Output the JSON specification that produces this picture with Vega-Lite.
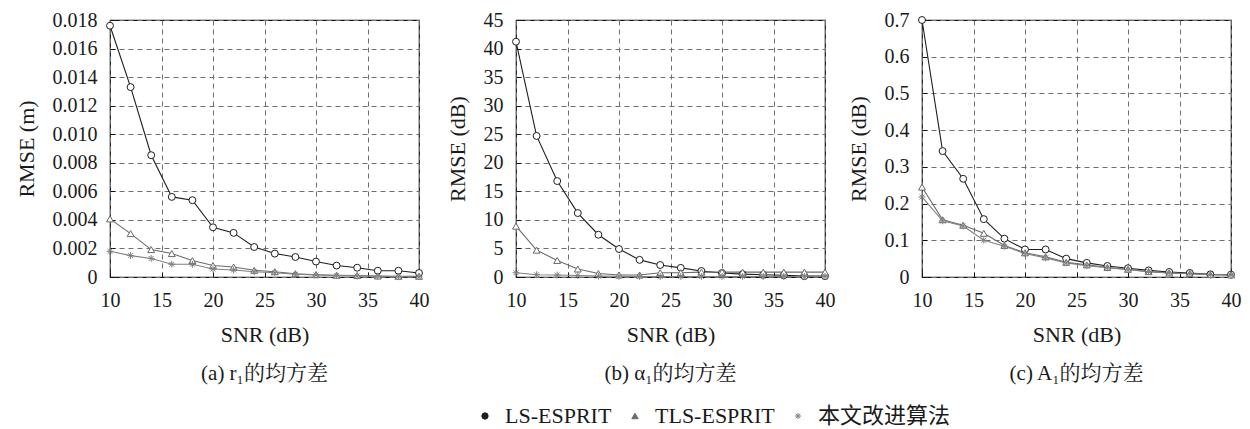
{
  "$schema": "https://vega.github.io/schema/vega-lite/v6.json",
  "background": "white",
  "padding": {"left": 14, "top": 9, "right": 10, "bottom": 5},
  "bounds": "flush",
  "spacing": 97,
  "datasets": {
    "a": [
      {"snr": 10, "LS-ESPRIT": 0.0176, "TLS-ESPRIT": 0.00407, "本文改进算法": 0.0018},
      {"snr": 12, "LS-ESPRIT": 0.0133, "TLS-ESPRIT": 0.00304, "本文改进算法": 0.0015},
      {"snr": 14, "LS-ESPRIT": 0.00853, "TLS-ESPRIT": 0.00192, "本文改进算法": 0.0013},
      {"snr": 16, "LS-ESPRIT": 0.00561, "TLS-ESPRIT": 0.00164, "本文改进算法": 0.00089},
      {"snr": 18, "LS-ESPRIT": 0.00538, "TLS-ESPRIT": 0.00115, "本文改进算法": 0.00089},
      {"snr": 20, "LS-ESPRIT": 0.00348, "TLS-ESPRIT": 0.0008, "本文改进算法": 0.00056},
      {"snr": 22, "LS-ESPRIT": 0.00309, "TLS-ESPRIT": 0.0007, "本文改进算法": 0.00049},
      {"snr": 24, "LS-ESPRIT": 0.0021, "TLS-ESPRIT": 0.00047, "本文改进算法": 0.00037},
      {"snr": 26, "LS-ESPRIT": 0.00164, "TLS-ESPRIT": 0.00037, "本文改进算法": 0.0003},
      {"snr": 28, "LS-ESPRIT": 0.0014, "TLS-ESPRIT": 0.00023, "本文改进算法": 0.00019},
      {"snr": 30, "LS-ESPRIT": 0.00108, "TLS-ESPRIT": 0.00016, "本文改进算法": 0.00014},
      {"snr": 32, "LS-ESPRIT": 0.0008, "TLS-ESPRIT": 0.00012, "本文改进算法": 0.0001},
      {"snr": 34, "LS-ESPRIT": 0.00065, "TLS-ESPRIT": 0.0001, "本文改进算法": 0.00007},
      {"snr": 36, "LS-ESPRIT": 0.00044, "TLS-ESPRIT": 0.00007, "本文改进算法": 0.00005},
      {"snr": 38, "LS-ESPRIT": 0.00044, "TLS-ESPRIT": 0.00005, "本文改进算法": 0.00002},
      {"snr": 40, "LS-ESPRIT": 0.00028, "TLS-ESPRIT": 0.00005, "本文改进算法": 0.00002}
    ],
    "b": [
      {"snr": 10, "LS-ESPRIT": 41.2, "TLS-ESPRIT": 8.9, "本文改进算法": 0.75},
      {"snr": 12, "LS-ESPRIT": 24.7, "TLS-ESPRIT": 4.7, "本文改进算法": 0.4},
      {"snr": 14, "LS-ESPRIT": 16.8, "TLS-ESPRIT": 2.9, "本文改进算法": 0.35},
      {"snr": 16, "LS-ESPRIT": 11.2, "TLS-ESPRIT": 1.4, "本文改进算法": 0.25},
      {"snr": 18, "LS-ESPRIT": 7.4, "TLS-ESPRIT": 0.6, "本文改进算法": 0.15},
      {"snr": 20, "LS-ESPRIT": 4.9, "TLS-ESPRIT": 0.35, "本文改进算法": 0.12},
      {"snr": 22, "LS-ESPRIT": 3.0, "TLS-ESPRIT": 0.35, "本文改进算法": 0.1},
      {"snr": 24, "LS-ESPRIT": 2.1, "TLS-ESPRIT": 0.75, "本文改进算法": 0.1},
      {"snr": 26, "LS-ESPRIT": 1.6, "TLS-ESPRIT": 0.75, "本文改进算法": 0.1},
      {"snr": 28, "LS-ESPRIT": 1.05, "TLS-ESPRIT": 0.85, "本文改进算法": 0.1},
      {"snr": 30, "LS-ESPRIT": 0.7, "TLS-ESPRIT": 0.85, "本文改进算法": 0.1},
      {"snr": 32, "LS-ESPRIT": 0.5, "TLS-ESPRIT": 0.85, "本文改进算法": 0.1},
      {"snr": 34, "LS-ESPRIT": 0.4, "TLS-ESPRIT": 0.85, "本文改进算法": 0.1},
      {"snr": 36, "LS-ESPRIT": 0.3, "TLS-ESPRIT": 0.85, "本文改进算法": 0.1},
      {"snr": 38, "LS-ESPRIT": 0.15, "TLS-ESPRIT": 0.85, "本文改进算法": 0.1},
      {"snr": 40, "LS-ESPRIT": 0.15, "TLS-ESPRIT": 0.85, "本文改进算法": 0.1}
    ],
    "c": [
      {"snr": 10, "LS-ESPRIT": 0.7, "TLS-ESPRIT": 0.245, "本文改进算法": 0.218},
      {"snr": 12, "LS-ESPRIT": 0.343, "TLS-ESPRIT": 0.156, "本文改进算法": 0.153},
      {"snr": 14, "LS-ESPRIT": 0.2675, "TLS-ESPRIT": 0.141, "本文改进算法": 0.139},
      {"snr": 16, "LS-ESPRIT": 0.1576, "TLS-ESPRIT": 0.119, "本文改进算法": 0.1},
      {"snr": 18, "LS-ESPRIT": 0.1045, "TLS-ESPRIT": 0.086, "本文改进算法": 0.084},
      {"snr": 20, "LS-ESPRIT": 0.075, "TLS-ESPRIT": 0.066, "本文改进算法": 0.064},
      {"snr": 22, "LS-ESPRIT": 0.075, "TLS-ESPRIT": 0.055, "本文改进算法": 0.052},
      {"snr": 24, "LS-ESPRIT": 0.05, "TLS-ESPRIT": 0.04, "本文改进算法": 0.0385},
      {"snr": 26, "LS-ESPRIT": 0.0385, "TLS-ESPRIT": 0.033, "本文改进算法": 0.031},
      {"snr": 28, "LS-ESPRIT": 0.03, "TLS-ESPRIT": 0.026, "本文改进算法": 0.025},
      {"snr": 30, "LS-ESPRIT": 0.024, "TLS-ESPRIT": 0.021, "本文改进算法": 0.02},
      {"snr": 32, "LS-ESPRIT": 0.018, "TLS-ESPRIT": 0.0147, "本文改进算法": 0.0147},
      {"snr": 34, "LS-ESPRIT": 0.0137, "TLS-ESPRIT": 0.011, "本文改进算法": 0.011},
      {"snr": 36, "LS-ESPRIT": 0.011, "TLS-ESPRIT": 0.009, "本文改进算法": 0.009},
      {"snr": 38, "LS-ESPRIT": 0.0073, "TLS-ESPRIT": 0.0064, "本文改进算法": 0.0064},
      {"snr": 40, "LS-ESPRIT": 0.0064, "TLS-ESPRIT": 0.0055, "本文改进算法": 0.0055}
    ]
  },
  "hconcat": [
    {
      "width": 309, "height": 257,
      "data": {"name": "a"},
      "transform": [{"fold": ["LS-ESPRIT", "TLS-ESPRIT", "本文改进算法"], "as": ["method", "value"]}],
      "title": {"text": "(a) r₁的均方差", "orient": "bottom"},
      "encoding": {
        "x": {"field": "snr", "type": "quantitative", "title": "SNR (dB)", "scale": {"domain": [10, 40], "nice": false, "zero": false}, "axis": {"values": [10, 15, 20, 25, 30, 35, 40]}},
        "y": {"field": "value", "type": "quantitative", "title": "RMSE (m)", "scale": {"domain": [0, 0.018], "nice": false}, "axis": {"values": [0, 0.002, 0.004, 0.006, 0.008, 0.01, 0.012, 0.014, 0.016, 0.018], "labelExpr": "datum.value == 0 ? '0' : format(datum.value, '.3f')"}},
        "color": {"field": "method", "type": "nominal", "scale": {"domain": ["LS-ESPRIT", "TLS-ESPRIT", "本文改进算法"], "range": ["#1e1e1e", "#6a6a6a", "#808080"]}, "legend": {"orient": "none", "legendX": 364, "legendY": 385}},
        "shape": {"field": "method", "type": "nominal", "scale": {"domain": ["LS-ESPRIT", "TLS-ESPRIT", "本文改进算法"], "range": ["circle", "triangle-up", "M-1,0L1,0M0,-1L0,1M-0.7,-0.7L0.7,0.7M-0.7,0.7L0.7,-0.7"]}, "legend": {"orient": "none", "legendX": 364, "legendY": 385}}
      },
      "layer": [
        {"mark": {"type": "line", "strokeWidth": 1.1}},
        {"mark": {"type": "point", "filled": false, "fill": "white", "fillOpacity": 1, "size": 48, "strokeWidth": 1, "opacity": 1}}
      ]
    },
    {
      "width": 309, "height": 257,
      "data": {"name": "b"},
      "transform": [{"fold": ["LS-ESPRIT", "TLS-ESPRIT", "本文改进算法"], "as": ["method", "value"]}],
      "title": {"text": "(b) α₁的均方差", "orient": "bottom"},
      "encoding": {
        "x": {"field": "snr", "type": "quantitative", "title": "SNR (dB)", "scale": {"domain": [10, 40], "nice": false, "zero": false}, "axis": {"values": [10, 15, 20, 25, 30, 35, 40]}},
        "y": {"field": "value", "type": "quantitative", "title": "RMSE (dB)", "scale": {"domain": [0, 45], "nice": false}, "axis": {"values": [0, 5, 10, 15, 20, 25, 30, 35, 40, 45]}},
        "color": {"field": "method", "type": "nominal", "scale": {"domain": ["LS-ESPRIT", "TLS-ESPRIT", "本文改进算法"], "range": ["#1e1e1e", "#6a6a6a", "#808080"]}},
        "shape": {"field": "method", "type": "nominal", "scale": {"domain": ["LS-ESPRIT", "TLS-ESPRIT", "本文改进算法"], "range": ["circle", "triangle-up", "M-1,0L1,0M0,-1L0,1M-0.7,-0.7L0.7,0.7M-0.7,0.7L0.7,-0.7"]}}
      },
      "layer": [
        {"mark": {"type": "line", "strokeWidth": 1.1}},
        {"mark": {"type": "point", "filled": false, "fill": "white", "fillOpacity": 1, "size": 48, "strokeWidth": 1, "opacity": 1}}
      ]
    },
    {
      "width": 309, "height": 257,
      "data": {"name": "c"},
      "transform": [{"fold": ["LS-ESPRIT", "TLS-ESPRIT", "本文改进算法"], "as": ["method", "value"]}],
      "title": {"text": "(c) A₁的均方差", "orient": "bottom"},
      "encoding": {
        "x": {"field": "snr", "type": "quantitative", "title": "SNR (dB)", "scale": {"domain": [10, 40], "nice": false, "zero": false}, "axis": {"values": [10, 15, 20, 25, 30, 35, 40]}},
        "y": {"field": "value", "type": "quantitative", "title": "RMSE (dB)", "scale": {"domain": [0, 0.7], "nice": false}, "axis": {"values": [0, 0.1, 0.2, 0.3, 0.4, 0.5, 0.6, 0.7], "labelExpr": "datum.value == 0 ? '0' : format(datum.value, '.1f')"}},
        "color": {"field": "method", "type": "nominal", "scale": {"domain": ["LS-ESPRIT", "TLS-ESPRIT", "本文改进算法"], "range": ["#1e1e1e", "#6a6a6a", "#808080"]}},
        "shape": {"field": "method", "type": "nominal", "scale": {"domain": ["LS-ESPRIT", "TLS-ESPRIT", "本文改进算法"], "range": ["circle", "triangle-up", "M-1,0L1,0M0,-1L0,1M-0.7,-0.7L0.7,0.7M-0.7,0.7L0.7,-0.7"]}}
      },
      "layer": [
        {"mark": {"type": "line", "strokeWidth": 1.1}},
        {"mark": {"type": "point", "filled": false, "fill": "white", "fillOpacity": 1, "size": 48, "strokeWidth": 1, "opacity": 1}}
      ]
    }
  ],
  "resolve": {"scale": {"color": "shared", "shape": "shared"}, "legend": {"color": "shared", "shape": "shared"}},
  "config": {
    "font": "Liberation Serif, DejaVu Serif, serif",
    "view": {"stroke": "#111", "strokeWidth": 1.2},
    "axis": {
      "domain": false, "ticks": true, "tickSize": -5, "tickColor": "#111", "tickWidth": 1, "grid": true,
      "gridColor": "#6e6e6e", "gridDash": [5, 4], "gridWidth": 1, "gridOpacity": 1,
      "labelFontSize": 20, "titleFontSize": 22, "labelColor": "#1a1a1a", "titleColor": "#1a1a1a",
      "titleFontWeight": "normal", "labelFont": "Liberation Serif, DejaVu Serif, serif", "titleFont": "Liberation Serif, DejaVu Serif, serif"
    },
    "axisX": {"labelPadding": 18, "titlePadding": 14, "labelFlush": false},
    "axisY": {"labelPadding": 18, "titlePadding": 14},
    "title": {"fontSize": 21, "fontWeight": "normal", "color": "#1a1a1a", "offset": 18, "font": "Liberation Serif, Noto Serif CJK SC, Noto Sans CJK SC, serif"},
    "legend": {
      "direction": "horizontal", "title": null,
      "labelFontSize": 22, "labelColor": "#1a1a1a", "labelFont": "Liberation Serif, Noto Sans CJK SC, serif",
      "symbolSize": 40, "symbolStrokeWidth": 1, "columnPadding": 12, "labelOffset": 9
    }
  }
}
